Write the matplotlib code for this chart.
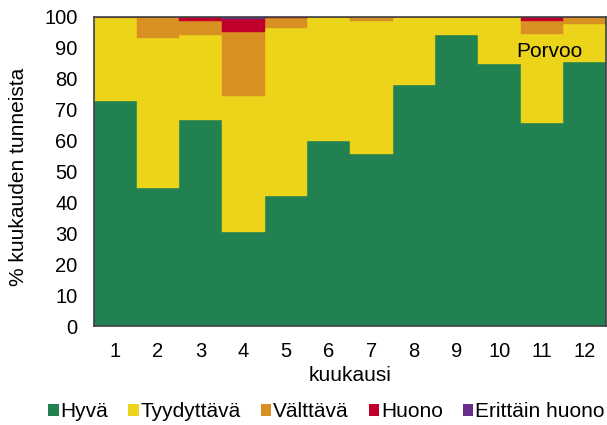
import matplotlib
matplotlib.use("Agg")
import matplotlib.pyplot as plt
from matplotlib.patches import Patch
import numpy as np

plt.rcParams['font.family'] = ['Liberation Sans', 'DejaVu Sans']

months = ['1', '2', '3', '4', '5', '6', '7', '8', '9', '10', '11', '12']
categories = ['Hyvä', 'Tyydyttävä', 'Välttävä', 'Huono', 'Erittäin huono']
colors = ['#228150', '#ecd41b', '#d89022', '#c0002a', '#6b2d8b']

hyva = [72.8, 44.7, 66.7, 30.4, 42.1, 59.9, 55.6, 78.0, 94.1, 84.7, 65.6, 85.4]
tyydyttava = [26.6, 48.4, 27.5, 44.0, 54.2, 40.1, 43.1, 22.0, 5.9, 15.3, 28.8, 12.2]
valttava = [0.6, 6.9, 4.5, 20.7, 3.2, 0.0, 1.3, 0.0, 0.0, 0.0, 4.3, 2.4]
huono = [0.0, 0.0, 1.3, 4.2, 0.5, 0.0, 0.0, 0.0, 0.0, 0.0, 1.3, 0.0]
erittain_huono = [0.0, 0.0, 0.0, 0.7, 0.0, 0.0, 0.0, 0.0, 0.0, 0.0, 0.0, 0.0]

series = [hyva, tyydyttava, valttava, huono, erittain_huono]

fs_tick = 14.5
fs = 15
fig = plt.figure(figsize=(6.07, 4.25), dpi=100)
ax = fig.add_axes([0.155, 0.232, 0.843, 0.729])

x = np.arange(len(months))
bottom = np.zeros(len(months))
for vals, col in zip(series, colors):
    vals = np.array(vals)
    ax.bar(x, vals, width=1.0, bottom=bottom, color=col,
           edgecolor=col, linewidth=0.3)
    bottom += vals

ax.set_xlim(-0.5, len(months) - 0.5)
ax.set_ylim(0, 100)
ax.set_yticks(np.arange(0, 101, 10))
ax.set_xticks(x)
ax.set_xticklabels(months)
ax.tick_params(length=0, labelsize=fs_tick)
ax.tick_params(axis='x', pad=11)
ax.tick_params(axis='y', pad=12)
for s in ax.spines.values():
    s.set_color('#404040')
    s.set_linewidth(1.2)

ax.set_xlabel('kuukausi', fontsize=fs, labelpad=4)
ax.set_ylabel('% kuukauden tunneista', fontsize=fs)
ax.yaxis.set_label_coords(-0.13, 0.482)

ax.text(9.41, 88.7, 'Porvoo', fontsize=fs, ha='left', va='center')

handles = [Patch(facecolor=c, edgecolor='none') for c in colors]
fig.legend(handles, categories, loc='lower center', bbox_to_anchor=(0.538, -0.035),
           ncol=5, frameon=False, fontsize=fs, handlelength=0.5,
           handleheight=0.5, handletextpad=0.1, columnspacing=0.95)

fig.savefig('out.png', dpi=100)
